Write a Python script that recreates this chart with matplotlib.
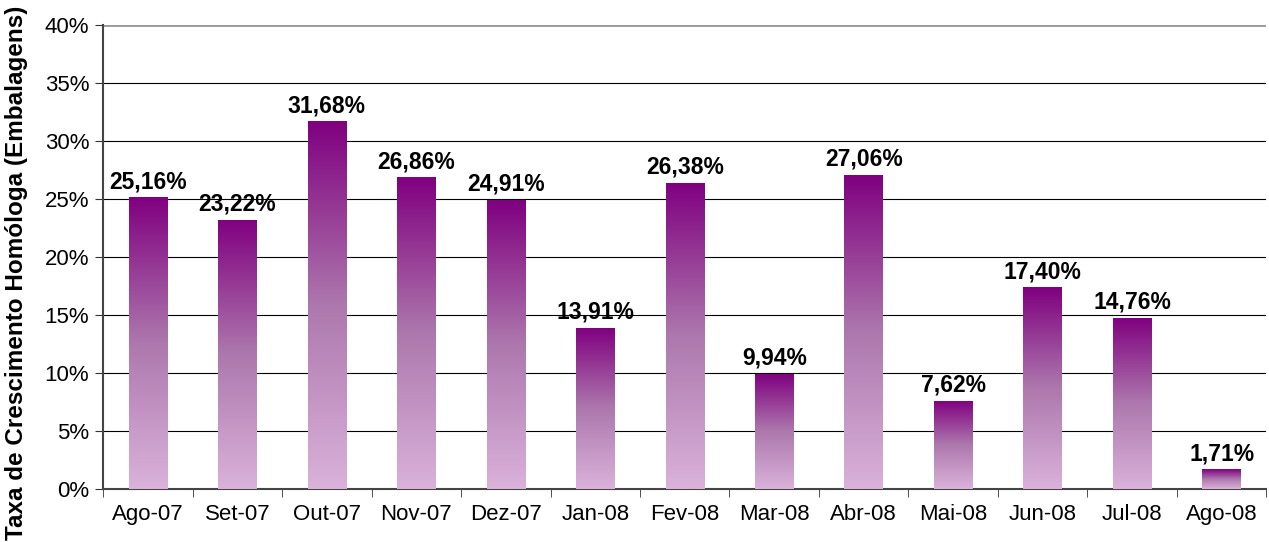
#!/usr/bin/env python3
"""Taxa de crescimento homóloga (embalagens), Ago-07 .. Ago-08."""
import matplotlib
matplotlib.use("Agg")
import matplotlib.pyplot as plt
import numpy as np
from matplotlib.colors import LinearSegmentedColormap
from matplotlib.patches import Rectangle

MONTHS = ["Ago-07", "Set-07", "Out-07", "Nov-07", "Dez-07", "Jan-08", "Fev-08",
          "Mar-08", "Abr-08", "Mai-08", "Jun-08", "Jul-08", "Ago-08"]
GROWTH = [25.16, 23.22, 31.68, 26.86, 24.91, 13.91, 26.38,
          9.94, 27.06, 7.62, 17.40, 14.76, 1.71]
LABELS = ["25,16%", "23,22%", "31,68%", "26,86%", "24,91%", "13,91%", "26,38%",
          "9,94%", "27,06%", "7,62%", "17,40%", "14,76%", "1,71%"]

plt.rcParams["font.family"] = ["Liberation Sans", "DejaVu Sans"]

CMAP = LinearSegmentedColormap.from_list(
    "purp", [(0.0, "#dab2da"), (0.5, "#ad78ad"), (1.0, "#800080")])
W = 0.43

fig = plt.figure(figsize=(12.69, 5.42), dpi=100)
ax = fig.add_axes([0.0812, 0.0978, 0.9168, 0.8562])

x = np.arange(len(MONTHS))
bars = ax.bar(x, GROWTH, width=W, color="none", zorder=3)
grad = np.linspace(0, 1, 256).reshape(-1, 1)
for b in bars:
    x0, h = b.get_x(), b.get_height()
    im = ax.imshow(grad, cmap=CMAP, origin="lower", aspect="auto",
                   extent=(x0, x0 + W, 0, h), zorder=3, interpolation="bilinear")
    im.set_clip_path(Rectangle((x0, 0), W, h, transform=ax.transData))

for xi, v, lab in zip(x, GROWTH, LABELS):
    ax.text(xi, v + 0.35, lab, ha="center", va="bottom", fontsize=16.5,
            fontweight="bold", zorder=4)

ax.set_xlim(-0.5, len(MONTHS) - 0.5)
ax.set_ylim(0, 40)
ax.set_yticks(np.arange(0, 41, 5))
ax.set_yticklabels([f"{v}%" for v in range(0, 41, 5)], fontsize=16)
ax.set_xticks(x)
ax.set_xticklabels(MONTHS, fontsize=16)
ax.set_xticks(np.arange(-0.5, len(MONTHS), 1), minor=True)
ax.tick_params(axis="x", which="major", length=0, pad=11)
ax.tick_params(axis="x", which="minor", length=6, color="#333333", direction="out")
ax.tick_params(axis="y", length=6, color="#333333", direction="out", pad=4)

ax.grid(axis="y", color="black", lw=0.8, zorder=1)
ax.set_axisbelow(True)
for s in ["top", "right"]:
    ax.spines[s].set_visible(False)
ax.spines["left"].set_color("#444444")
ax.spines["left"].set_linewidth(1.5)
ax.spines["bottom"].set_color("#444444")
ax.spines["bottom"].set_linewidth(1.5)
ax.axhline(40, color="#999999", lw=2, zorder=2)

ax.set_ylabel("Taxa de Crescimento Homóloga (Embalagens)", fontsize=17.5,
              fontweight="bold")
ax.yaxis.set_label_coords(-0.0645, 0.466)

fig.savefig("out.png", dpi=100)
